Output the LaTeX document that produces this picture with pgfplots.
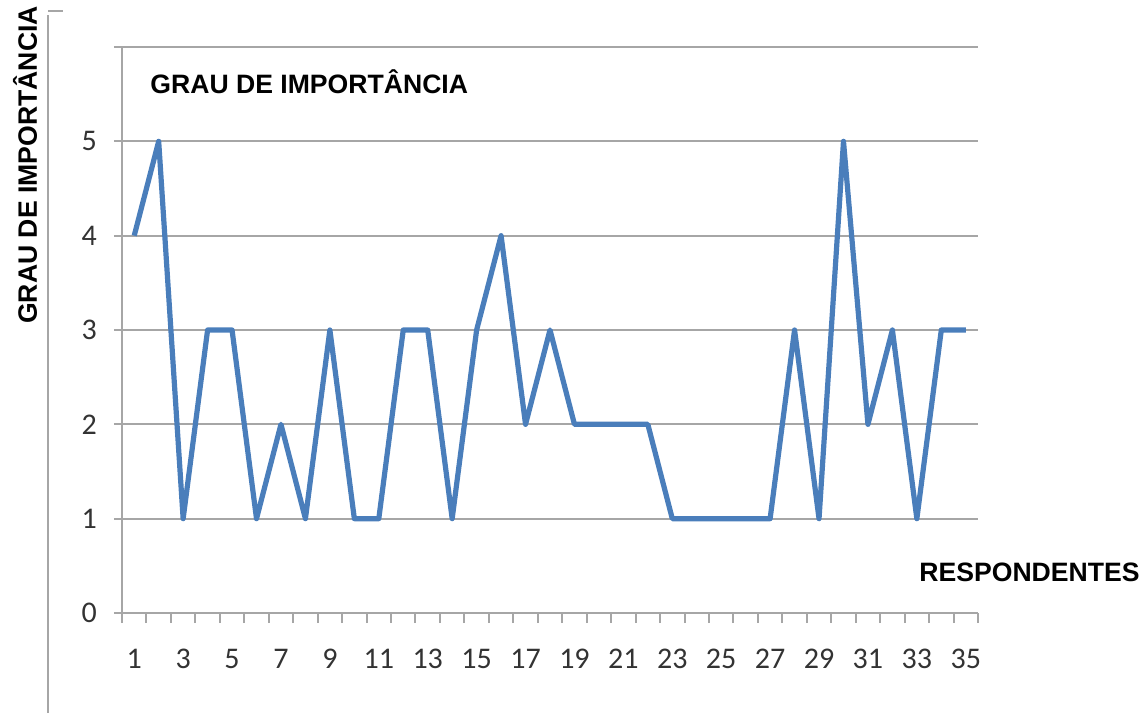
\documentclass[border=0pt]{standalone}
\usepackage{fontspec}
\setmainfont{Carlito}
\newfontfamily\arial{Liberation Sans}
\usepackage{pgfplots}
\pgfplotsset{compat=1.18}
\definecolor{serie}{HTML}{4A7EBB}
\definecolor{grade}{HTML}{A6A6A6}

\begin{document}
\begin{tikzpicture}[x=0.5pt,y=0.5pt]
% moldura: 1147 x 713 px, 1 px = 0.5pt, y para cima
\path (0,0) rectangle (1147,713);
\draw[grade, line width=1.2pt] (48,0) -- (48,698);
\draw[grade, line width=1.2pt] (48,702) -- (63,702);
\begin{axis}[
  at={(61pt,50pt)}, anchor=south west,
  scale only axis,
  width=428pt, height=283pt,
  xmin=0.5, xmax=35.5,
  ymin=0, ymax=6,
  axis x line*=bottom,
  axis y line*=left,
  axis line style={grade, line width=1pt, -},
  xtick={1,3,...,35},
  minor xtick={0.5,1.5,...,35.5},
  ytick={0,1,...,6},
  yticklabels={0,1,2,3,4,5,},
  ymajorgrids,
  grid style={grade, line width=1pt},
  major tick style={grade, line width=1pt},
  minor tick style={grade, line width=1pt},
  major x tick style={draw=none},
  tick align=outside,
  major tick length=4pt,
  minor tick length=5pt,
  tick label style={font=\fontsize{15}{17}\selectfont, text=black!80},
  /pgf/number format/assume math mode=true,
  xticklabel style={yshift=-10.5pt},
  yticklabel style={xshift=-5pt},
  clip=false,
]
\addplot[serie, line width=2.6pt, line join=round] coordinates {
(1,4) (2,5) (3,1) (4,3) (5,3) (6,1) (7,2) (8,1) (9,3) (10,1)
(11,1) (12,3) (13,3) (14,1) (15,3) (16,4) (17,2) (18,3) (19,2) (20,2)
(21,2) (22,2) (23,1) (24,1) (25,1) (26,1) (27,1) (28,3) (29,1) (30,5)
(31,2) (32,3) (33,1) (34,3) (35,3)};
\end{axis}
\node[anchor=west, inner sep=0, font=\arial\bfseries\fontsize{13.3}{15}\selectfont] at (150,631) {GRAU DE IMPORTÂNCIA};
\node[rotate=90, inner sep=0, font=\arial\bfseries\fontsize{13.3}{15}\selectfont] at (25,548) {GRAU DE IMPORTÂNCIA};
\node[anchor=east, inner sep=0, font=\arial\bfseries\fontsize{13.3}{15}\selectfont] at (1140,141) {RESPONDENTES};
\end{tikzpicture}
\end{document}
